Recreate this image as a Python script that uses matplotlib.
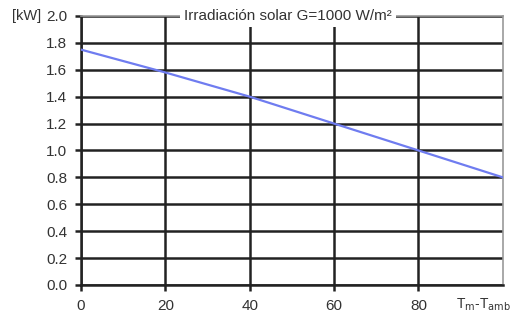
import matplotlib
matplotlib.use('Agg')
import matplotlib.pyplot as plt

# Potencia vs diferencia de temperatura
temp_diff = [0, 20, 40, 60, 80, 100]
power_kw = [1.75, 1.58, 1.40, 1.20, 1.00, 0.80]

x_ticks = [0, 20, 40, 60, 80]
y_ticks = [0.0, 0.2, 0.4, 0.6, 0.8, 1.0, 1.2, 1.4, 1.6, 1.8, 2.0]

plt.rcParams['font.family'] = ['Liberation Sans', 'DejaVu Sans']

fig = plt.figure(figsize=(5.12, 3.26), dpi=100)
ax = fig.add_axes([0.158, 0.126, 0.824, 0.825])

ax.plot(temp_diff, power_kw, color='#6f7cf0', lw=1.6, zorder=3)

ax.set_xlim(0, 100)
ax.set_ylim(0, 2.0)
ax.set_xticks(x_ticks)
ax.set_yticks(y_ticks)
ax.set_yticklabels([f'{v:.1f}' for v in y_ticks])

ax.grid(True, color='#222222', lw=1.8)
ax.tick_params(length=4, width=1.8, color='#222222', labelsize=11,
               labelcolor='#333333', pad=6)
ax.spines['left'].set_linewidth(1.8)
ax.spines['left'].set_color('#222222')
ax.spines['bottom'].set_linewidth(1.8)
ax.spines['bottom'].set_color('#222222')
for side in ('top', 'right'):
    ax.spines[side].set_color('#999999')
    ax.spines[side].set_linewidth(1.2)

ax.text(0.49, 1.0, 'Irradiación solar G=1000 W/m²', transform=ax.transAxes,
        ha='center', va='center', fontsize=11, color='#333333',
        bbox=dict(facecolor='white', edgecolor='none', pad=3), zorder=5)
ax.text(-0.095, 1.0, '[kW]', transform=ax.transAxes, ha='right', va='center',
        fontsize=10.5, color='#333333')
ax.text(0.955, -0.075, r'T$_{\rm m}$-T$_{\rm amb}$', transform=ax.transAxes,
        ha='center', va='center', fontsize=10, color='#333333')

fig.savefig('out.png', dpi=100)
